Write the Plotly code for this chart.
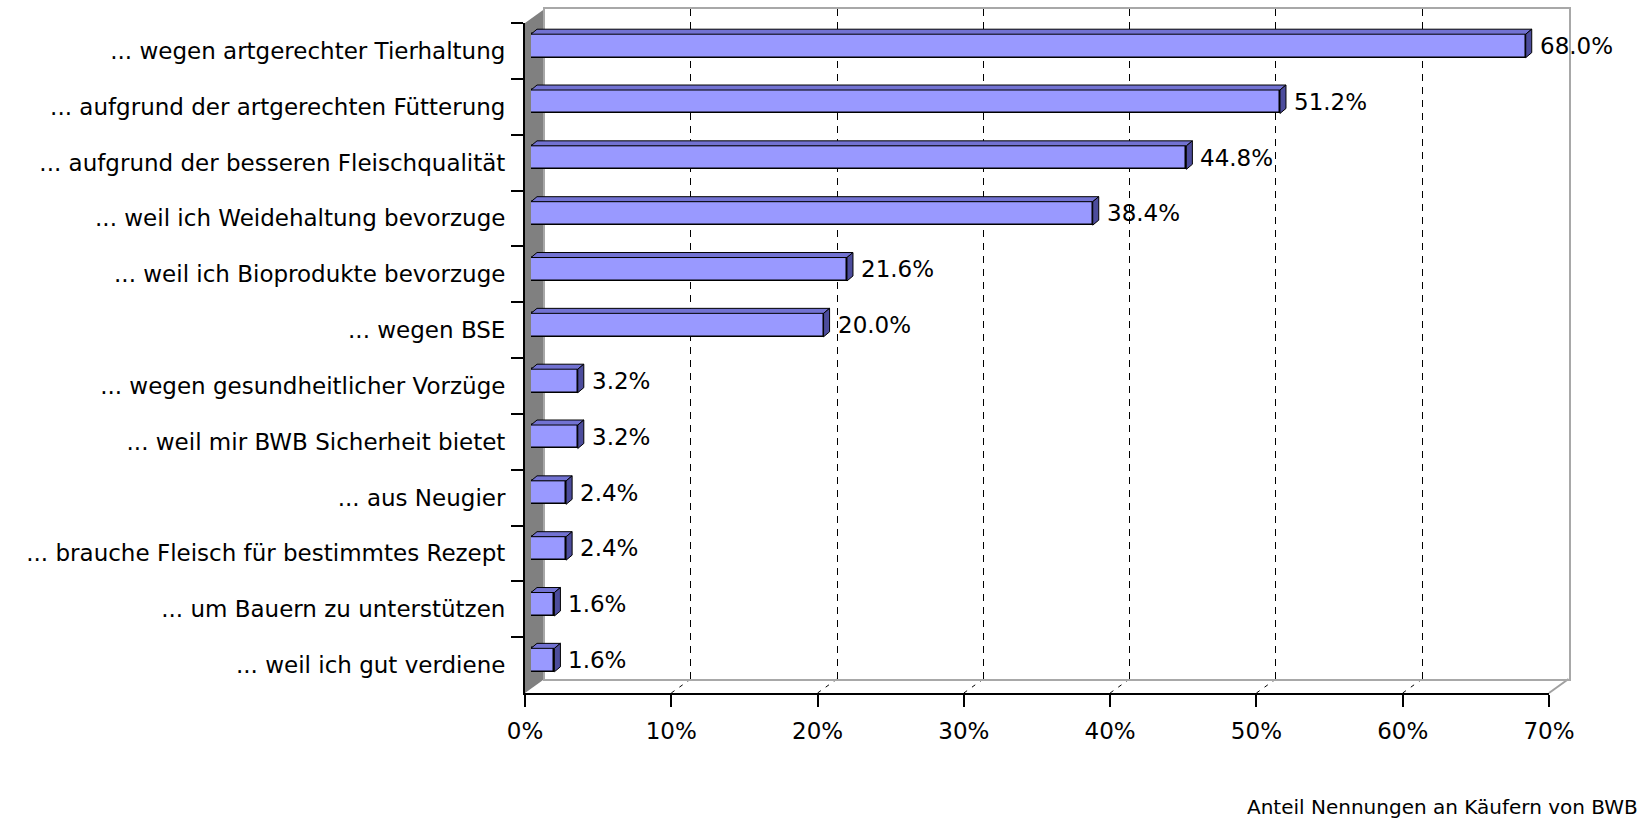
import plotly.graph_objects as go

# ---------------- data ----------------
categories = [
    "... wegen artgerechter Tierhaltung",
    "... aufgrund der artgerechten Fütterung",
    "... aufgrund der besseren Fleischqualität",
    "... weil ich Weidehaltung bevorzuge",
    "... weil ich Bioprodukte bevorzuge",
    "... wegen BSE",
    "... wegen gesundheitlicher Vorzüge",
    "... weil mir BWB Sicherheit bietet",
    "... aus Neugier",
    "... brauche Fleisch für bestimmtes Rezept",
    "... um Bauern zu unterstützen",
    "... weil ich gut verdiene",
]
values = [68.0, 51.2, 44.8, 38.4, 21.6, 20.0, 3.2, 3.2, 2.4, 2.4, 1.6, 1.6]
x_tickvals = [0, 10, 20, 30, 40, 50, 60, 70]
x_ticktext = ["0%", "10%", "20%", "30%", "40%", "50%", "60%", "70%"]
x_title = "Anteil Nennungen an Käufern von BWB"

# ---------------- layout geometry (pixels) ----------------
W, H = 1649, 818
FONT = "DejaVu Sans"

def px(x):
    return x / W

def py(y):
    return 1 - y / H

# front plane
FX0, FX1, FY0, FY1 = 525, 1549, 23, 693
# 3D depth of the back wall and the bars
BACK_DX, BACK_DY = 19.5, 14
BAR_DX, BAR_DY = 6, 5
FACE_DX, FACE_DY = 6, 5

x_max = 70
bar_width = 0.42
n = len(categories)
cat_px = (FY1 - FY0) / n
half_h = bar_width * cat_px / 2
plot_w = FX1 - FX0
d_data = FACE_DX * x_max / plot_w

fig = go.Figure()

# back wall subplot (x / y)
fig.add_trace(go.Scatter(x=[None], y=[None], xaxis="x", yaxis="y",
                         showlegend=False, hoverinfo="skip"))
# bars (x2 / y2)
fig.add_trace(go.Bar(
    x=values, y=categories, orientation="h", xaxis="x2", yaxis="y2",
    width=bar_width, marker=dict(color="#9999FF", line=dict(color="black", width=1.5)),
    showlegend=False, hoverinfo="skip",
))
# front plane axes (x3 / y3)
fig.add_trace(go.Scatter(x=values, y=categories, xaxis="x3", yaxis="y3", mode="markers",
                         marker=dict(opacity=0), showlegend=False, hoverinfo="skip"))

shapes = []
# left wall
shapes.append(dict(
    type="path", xref="paper", yref="paper", layer="below",
    path=f"M {px(FX0)},{py(FY1)} L {px(FX0)},{py(FY0)} L {px(FX0+BACK_DX)},{py(FY0-BACK_DY)} "
         f"L {px(FX0+BACK_DX)},{py(FY1-BACK_DY)} Z",
    fillcolor="#808080", line=dict(width=0),
))
# floor right edge
shapes.append(dict(
    type="line", xref="paper", yref="paper", layer="below",
    x0=px(FX1), y0=py(FY1), x1=px(FX1 + BACK_DX), y1=py(FY1 - BACK_DY),
    line=dict(color="#a0a0a0", width=2),
))
# floor dashed lines
for t in x_tickvals[1:-1]:
    shapes.append(dict(
        type="line", xref="x3", yref="paper", xsizemode="pixel", xanchor=t,
        x0=0, x1=BACK_DX, y0=py(FY1), y1=py(FY1 - BACK_DY), layer="below",
        line=dict(color="black", width=1, dash="4px,6px"),
    ))
# 3D faces of the bars
for cat, v in zip(categories, values):
    shapes.append(dict(
        type="path", xref="x2", yref="y2", ysizemode="pixel", yanchor=cat,
        path=f"M 0,{half_h} L {v},{half_h} L {v + d_data},{half_h + FACE_DY} L {d_data},{half_h + FACE_DY} Z",
        fillcolor="#7272D2", line=dict(color="black", width=1), layer="above",
    ))
    shapes.append(dict(
        type="path", xref="x2", yref="y2", xsizemode="pixel", xanchor=v,
        ysizemode="pixel", yanchor=cat,
        path=f"M 0,{half_h} L {FACE_DX},{half_h + FACE_DY} L {FACE_DX},{-half_h + FACE_DY} L 0,{-half_h} Z",
        fillcolor="#4C4C9C", line=dict(color="black", width=1), layer="above",
    ))

annotations = []
for cat, v in zip(categories, values):
    annotations.append(dict(
        xref="x2", yref="y2", x=v, y=cat, text=f"{v:.1f}%", showarrow=False,
        xanchor="left", yanchor="middle", xshift=12,
        font=dict(family=FONT, size=23, color="black"),
    ))
annotations.append(dict(
    xref="paper", yref="paper", x=px(1640), y=py(807), text=x_title, showarrow=False,
    xanchor="right", yanchor="middle", font=dict(family=FONT, size=20, color="black"),
))

cat_range = [n - 0.5, -0.5]

fig.update_layout(
    width=W, height=H, autosize=False,
    margin=dict(l=0, r=0, t=0, b=0, pad=0),
    paper_bgcolor="white", plot_bgcolor="rgba(0,0,0,0)",
    font=dict(family=FONT, size=23, color="black"),
    showlegend=False,
    bargap=0,
    # back wall
    xaxis=dict(domain=[px(FX0 + BACK_DX), px(FX1 + BACK_DX)], range=[0, x_max], anchor="y",
               tickvals=x_tickvals[1:-1], showticklabels=False, ticks="",
               showgrid=True, gridcolor="black", gridwidth=1, griddash="7px,6px",
               showline=True, mirror=True, linecolor="#a8a8a8", linewidth=2,
               zeroline=False, fixedrange=True, automargin=False),
    yaxis=dict(domain=[py(FY1 - BACK_DY), py(FY0 - BACK_DY)], range=[0, 1], anchor="x",
               showgrid=False, showticklabels=False, ticks="",
               showline=True, mirror=True, linecolor="#a8a8a8", linewidth=2,
               zeroline=False, fixedrange=True, automargin=False),
    # bars plane
    xaxis2=dict(domain=[px(FX0 + BAR_DX), px(FX1 + BAR_DX)], range=[0, x_max], anchor="y2",
                visible=False, fixedrange=True, automargin=False),
    yaxis2=dict(domain=[py(FY1 - BAR_DY), py(FY0 - BAR_DY)], type="category",
                categoryorder="array", categoryarray=categories, range=cat_range,
                anchor="x2", visible=False, fixedrange=True, automargin=False),
    # front plane
    xaxis3=dict(domain=[px(FX0), px(FX1)], range=[0, x_max], anchor="y3",
                tickvals=x_tickvals, ticktext=x_ticktext, ticks="outside", ticklen=12,
                tickwidth=2, tickcolor="black", showline=True, linecolor="black", linewidth=2,
                showgrid=False, zeroline=False, tickfont=dict(family=FONT, size=23, color="black"),
                ticklabelstandoff=4, fixedrange=True, automargin=False),
    yaxis3=dict(domain=[py(FY1), py(FY0)], type="category", categoryorder="array",
                categoryarray=categories, range=cat_range, anchor="x3",
                tickson="boundaries", ticks="outside", ticklen=12, tickwidth=2, tickcolor="black",
                showline=True, linecolor="black", linewidth=2, showgrid=False, zeroline=False,
                tickfont=dict(family=FONT, size=23, color="black"), ticklabelstandoff=13,
                fixedrange=True, automargin=False),
    shapes=shapes,
    annotations=annotations,
)

fig.write_html(
    "out.html",
    config={"displayModeBar": False},
    post_script="document.body.style.margin='0';document.body.style.overflow='hidden';",
)
